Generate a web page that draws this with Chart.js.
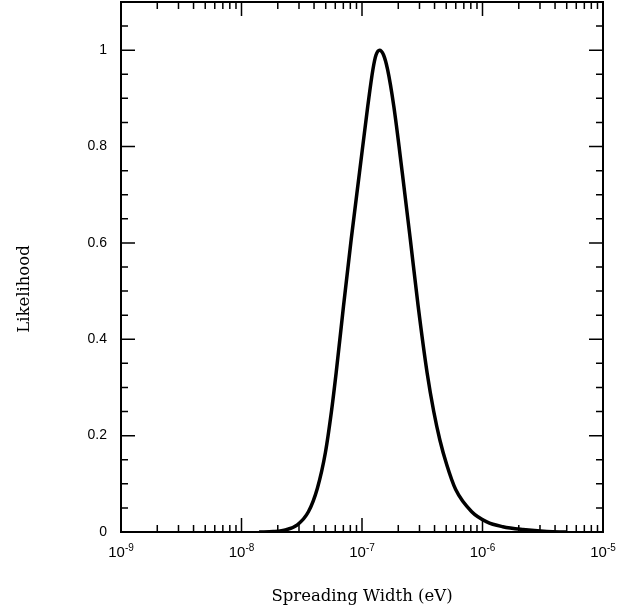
<!DOCTYPE html>
<html>
<head>
<meta charset="utf-8">
<script src="https://cdn.jsdelivr.net/npm/chart.js@4.4.0/dist/chart.umd.min.js"></script>
<style>
  body { margin: 0; background: #fff; }
  canvas { display: block; }
</style>
</head>
<body>
<canvas id="likelihoodChart" width="638" height="612"></canvas>
<script>
// spreading width (eV) and likelihood
var widths = [
  1.4e-8, 1.837e-8, 2.355e-8, 2.908e-8, 3.59e-8, 4.264e-8, 4.97e-8, 5.577e-8,
  6.10e-8, 7.017e-8, 8.131e-8, 9.533e-8, 1.117e-7, 1.232e-7, 1.307e-7, 1.398e-7,
  1.51e-7, 1.63e-7, 1.835e-7, 2.158e-7, 2.518e-7, 2.927e-7, 3.472e-7, 3.939e-7,
  4.428e-7, 5.043e-7, 5.991e-7, 8.137e-7, 1.085e-6, 1.474e-6, 2.162e-6, 3.421e-6,
  5.0e-6
];
var likelihood = [
  0, 0.001, 0.005, 0.015, 0.042, 0.091, 0.165, 0.25,
  0.33, 0.468, 0.607, 0.746, 0.884, 0.96, 0.99, 1.0,
  0.99, 0.96, 0.884, 0.746, 0.607, 0.468, 0.33, 0.25,
  0.191, 0.14, 0.088, 0.042, 0.021, 0.011, 0.005, 0.001,
  0
];

var xDecades = [1e-9, 1e-8, 1e-7, 1e-6, 1e-5];
var xExponents = ['-9', '-8', '-7', '-6', '-5'];
var yTicks = [0, 0.2, 0.4, 0.6, 0.8, 1];
var yTickLabels = ['0', '0.2', '0.4', '0.6', '0.8', '1'];

var sansFont = '"Liberation Sans", Arial, sans-serif';
var serifFont = '"DejaVu Serif", "Liberation Serif", serif';

// box around the plot, inward ticks on all sides, 10^n labels, y title
const frameTicks = {
  id: 'frameTicks',
  afterDraw(chart) {
    const { ctx, chartArea: a, scales: { x, y } } = chart;
    ctx.save();
    ctx.strokeStyle = '#000';
    ctx.lineWidth = 2;
    ctx.strokeRect(a.left, a.top, a.right - a.left, a.bottom - a.top);

    ctx.lineWidth = 1.5;
    ctx.beginPath();
    for (let d = -9; d <= -5; d++) {
      for (let k = 1; k <= 9; k++) {
        if (d === -5 && k > 1) break;
        const px = x.getPixelForValue(k * Math.pow(10, d));
        const len = k === 1 ? 14 : 7;
        ctx.moveTo(px, a.bottom); ctx.lineTo(px, a.bottom - len);
        ctx.moveTo(px, a.top); ctx.lineTo(px, a.top + len);
      }
    }
    for (let i = 0; i < 22; i++) {
      const py = y.getPixelForValue(i * 0.05);
      const len = i % 4 === 0 ? 14 : 7;
      ctx.moveTo(a.left, py); ctx.lineTo(a.left + len, py);
      ctx.moveTo(a.right, py); ctx.lineTo(a.right - len, py);
    }
    ctx.stroke();

    ctx.fillStyle = '#000';
    ctx.textAlign = 'left';
    ctx.textBaseline = 'alphabetic';
    xDecades.forEach((v, i) => {
      const px = x.getPixelForValue(v);
      ctx.font = '15px ' + sansFont;
      const w1 = ctx.measureText('10').width;
      ctx.font = '10px ' + sansFont;
      const w2 = ctx.measureText(xExponents[i]).width;
      const left = px - (w1 + w2) / 2;
      ctx.font = '15px ' + sansFont;
      ctx.fillText('10', left, a.bottom + 25);
      ctx.font = '10px ' + sansFont;
      ctx.fillText(xExponents[i], left + w1, a.bottom + 19);
    });

    // y axis title sits a bit below the middle in the original
    ctx.translate(25, 289);
    ctx.rotate(-Math.PI / 2);
    ctx.textAlign = 'center';
    ctx.textBaseline = 'middle';
    ctx.font = '16.5px ' + serifFont;
    ctx.fillText('Likelihood', 0, 0);
    ctx.restore();
  }
};

new Chart(document.getElementById('likelihoodChart').getContext('2d'), {
  type: 'line',
  data: {
    datasets: [{
      data: widths.map((w, i) => ({ x: w, y: likelihood[i] })),
      borderColor: '#000',
      borderWidth: 3.5,
      pointRadius: 0,
      fill: false,
      cubicInterpolationMode: 'monotone'
    }]
  },
  options: {
    responsive: false,
    animation: false,
    layout: { padding: { top: 2, right: 35, bottom: 0, left: 0 } },
    plugins: { legend: { display: false }, tooltip: { enabled: false } },
    scales: {
      x: {
        type: 'logarithmic',
        min: 1e-9,
        max: 1e-5,
        grid: { display: false, drawTicks: false },
        border: { display: false },
        ticks: { display: false },
        afterFit: scale => {
          scale.height = 80;
          scale.paddingLeft = 0; scale.paddingRight = 0;
        },
        title: {
          display: true,
          text: 'Spreading Width (eV)',
          color: '#000',
          font: { family: serifFont, size: 16.5 },
          padding: { top: 0, bottom: 5 }
        }
      },
      y: {
        type: 'linear',
        min: 0,
        max: 1.1,
        grid: { display: false, drawTicks: false },
        border: { display: false },
        afterBuildTicks: scale => { scale.ticks = yTicks.map(v => ({ value: v })); },
        afterFit: scale => {
          scale.width = 121;
          scale.paddingTop = 0; scale.paddingBottom = 0;
        },
        ticks: {
          color: '#000',
          padding: 14,
          font: { family: sansFont, size: 14 },
          callback: (v) => yTickLabels[yTicks.indexOf(v)]
        }
      }
    }
  },
  plugins: [frameTicks]
});
</script>
</body>
</html>
